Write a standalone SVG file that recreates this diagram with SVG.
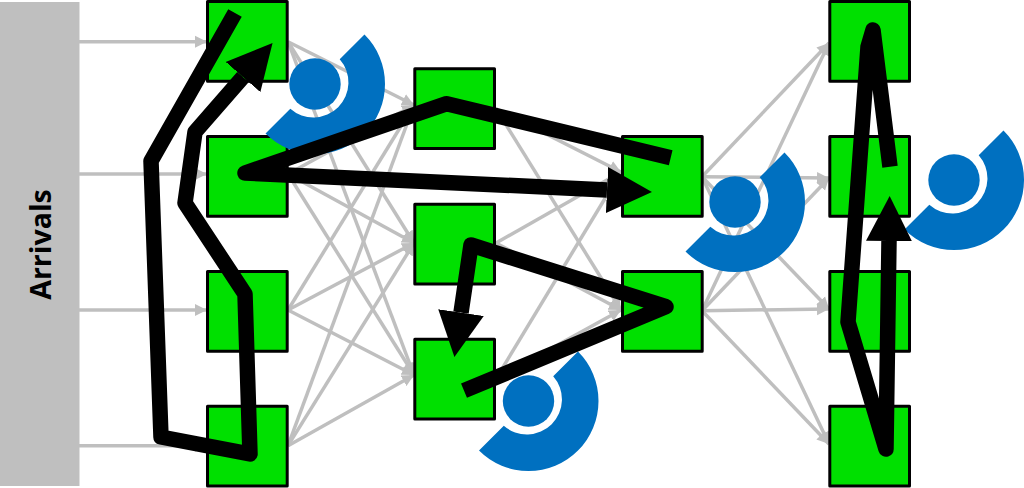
<svg xmlns="http://www.w3.org/2000/svg" width="1024" height="488" viewBox="0 0 1024 488">
<style>
.flow{fill:none;stroke:#bfbfbf;stroke-width:3.5;marker-end:url(#g)}
.node{fill:#00e000;stroke:#000;stroke-width:3;stroke-linejoin:round}
.ring{fill:#0070c0}
.route{fill:none;stroke:#000;stroke-width:15.5;stroke-linejoin:round}
.arrow{marker-end:url(#k)}
.label{font-family:"Open Sans","Liberation Sans",sans-serif;font-weight:700;font-size:28.5px;fill:#000;text-anchor:middle}
</style>
<defs>
<marker id="g" markerUnits="userSpaceOnUse" markerWidth="13" markerHeight="13" refX="12" refY="6.5" orient="auto"><path d="M0,0.5L12,6.5L0,12.5z" fill="#bfbfbf"/></marker>
<marker id="k" markerUnits="userSpaceOnUse" markerWidth="48" markerHeight="48" refX="0" refY="24" orient="auto"><path d="M0,1L45,24L0,47z" fill="#000"/></marker>
<g id="server"><circle cx="0" cy="0" r="25.7"/><path d="M49.5,-49.5A70,70 0 0 1 -49.5,49.5L-24.7,24.7A35,35 0 0 0 24.7,-24.7z"/></g>
</defs>
<g id="connectors">
<path class="flow" d="M79,41.7H207"/><path class="flow" d="M79,174H207"/><path class="flow" d="M79,310H207"/><path class="flow" d="M79,445.7H207"/>
<path class="flow" d="M288,41.7L414,105"/><path class="flow" d="M288,41.7L414,243"/><path class="flow" d="M288,41.7L414,375"/>
<path class="flow" d="M288,174L414,105"/><path class="flow" d="M288,174L414,243"/><path class="flow" d="M288,174L414,375"/>
<path class="flow" d="M288,310L414,105"/><path class="flow" d="M288,310L414,243"/><path class="flow" d="M288,310L414,375"/>
<path class="flow" d="M288,445.7L414,105"/><path class="flow" d="M288,445.7L414,243"/><path class="flow" d="M288,445.7L414,375"/>
<path class="flow" d="M496,108.7L621,172"/><path class="flow" d="M496,108.7L621,310"/>
<path class="flow" d="M496,243L621,172"/><path class="flow" d="M496,243L621,310"/>
<path class="flow" d="M496,378.8L621,172"/><path class="flow" d="M496,378.8L621,310"/>
<path class="flow" d="M702,176.7L829,43"/><path class="flow" d="M702,176.7L829,178"/><path class="flow" d="M702,176.7L829,309"/><path class="flow" d="M702,176.7L829,444"/>
<path class="flow" d="M702,310.7L829,43"/><path class="flow" d="M702,310.7L829,178"/><path class="flow" d="M702,310.7L829,309"/><path class="flow" d="M702,310.7L829,444"/>
</g>
<g id="arrivals"><rect x="0" y="2" width="79.5" height="484" fill="#bfbfbf"/><text class="label" transform="translate(51,244.5) rotate(-90)">Arrivals</text></g>
<g id="n1"><rect class="node" x="207.5" y="1.5" width="79.7" height="79.7"/></g>
<g id="n2"><rect class="node" x="207.5" y="136.5" width="79.7" height="79.7"/></g>
<g id="n3"><rect class="node" x="207.5" y="271.5" width="79.7" height="79.7"/></g>
<g id="n4"><rect class="node" x="207.5" y="406.2" width="79.7" height="79.7"/></g>
<g id="n5"><rect class="node" x="414.8" y="68.8" width="79.7" height="79.7"/></g>
<g id="n6"><rect class="node" x="414.8" y="204.2" width="79.7" height="79.7"/></g>
<g id="n7"><rect class="node" x="414.8" y="339.2" width="79.7" height="79.7"/></g>
<g id="n8"><rect class="node" x="622.5" y="136.5" width="79.7" height="79.7"/></g>
<g id="n9"><rect class="node" x="622.5" y="271.5" width="79.7" height="79.7"/></g>
<g id="n10"><rect class="node" x="829.8" y="1.5" width="79.7" height="79.7"/></g>
<g id="n11"><rect class="node" x="829.8" y="136.5" width="79.7" height="79.7"/></g>
<g id="n12"><rect class="node" x="829.8" y="271.5" width="79.7" height="79.7"/></g>
<g id="n13"><rect class="node" x="829.8" y="406.2" width="79.7" height="79.7"/></g>
<g id="servers">
<use class="ring" href="#server" x="315" y="84"/>
<use class="ring" href="#server" x="528.5" y="401"/>
<use class="ring" href="#server" x="735" y="202"/>
<use class="ring" href="#server" x="954" y="180"/>
</g>
<g id="routes">
<path class="route arrow" d="M235,13L151,161L161,437L250,454L245,294L185,203L195,132L243,77"/>
<path class="route arrow" d="M670.7,157.7L446.7,103.7L245,173L607,190"/>
<path class="route arrow" d="M464,390.7L666,306.7L471,245L461,312.6"/>
<path class="route arrow" d="M890,166.7L873,30L868,47L848,322L886,449L889,241"/>
</g>
</svg>
